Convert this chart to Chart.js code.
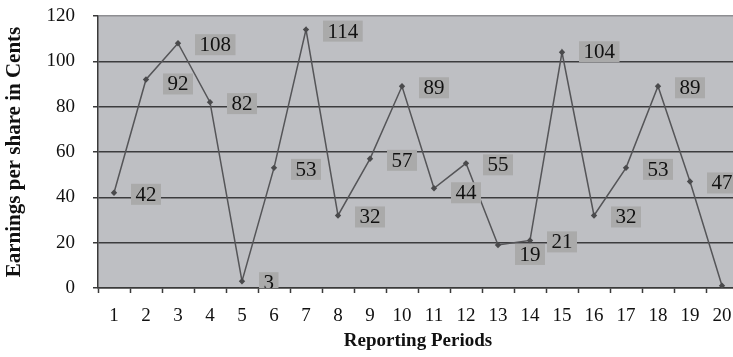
<!DOCTYPE html>
<html>
<head>
<meta charset="utf-8">
<script src="https://cdn.jsdelivr.net/npm/chart.js@4/dist/chart.umd.min.js"></script>
<style>
  html, body { margin: 0; padding: 0; background: #fff; overflow: hidden; width: 733px; height: 357px; }
  #wrap { width: 742px; height: 357px; }
</style>
</head>
<body>
<div id="wrap"><canvas id="eps" width="742" height="357"></canvas></div>
<script>
// Reporting periods and earnings per share (cents)
const periods = ['1','2','3','4','5','6','7','8','9','10','11','12','13','14','15','16','17','18','19','20'];
const earnings = [42, 92, 108, 82, 3, 53, 114, 32, 57, 89, 44, 55, 19, 21, 104, 32, 53, 89, 47, 1];
const yTickValues = [0, 20, 40, 60, 80, 100, 120];

// extra vertical shift (px) for a few value labels so they sit clear of the line
const labelShift = [0, 3, 0, 0, 0, 0, 0, 0, 0, 0, 3, 0, 8, 0, -2, 0, 0, 0, 0, 0];

const SERIF = '"Liberation Serif", "DejaVu Serif", serif';

const plotBackground = {
  id: 'plotBackground',
  beforeDraw(chart) {
    const { ctx, chartArea: a } = chart;
    ctx.save();
    ctx.fillStyle = '#bebfc3';
    ctx.fillRect(a.left, a.top, a.right - a.left, a.bottom - a.top);
    ctx.restore();
  }
};

const valueLabels = {
  id: 'valueLabels',
  afterDatasetsDraw(chart) {
    const { ctx, chartArea: a } = chart;
    const meta = chart.getDatasetMeta(0);
    ctx.save();
    ctx.beginPath();
    ctx.rect(a.left, a.top, a.right - a.left, a.bottom - a.top);
    ctx.clip();
    ctx.font = '21px ' + SERIF;
    ctx.textAlign = 'center';
    ctx.textBaseline = 'middle';
    meta.data.forEach((pt, i) => {
      const text = String(chart.data.datasets[0].data[i]);
      const w = ctx.measureText(text).width + 9;
      const h = 21;
      const left = pt.x + 17;
      const cy = pt.y + 1.5 + labelShift[i];
      ctx.fillStyle = '#aaaaaa';
      ctx.fillRect(left, cy - h / 2, w, h);
      ctx.fillStyle = '#111';
      ctx.fillText(text, left + w / 2, cy + 1);
    });
    ctx.restore();
  }
};

new Chart(document.getElementById('eps'), {
  type: 'line',
  data: {
    labels: periods,
    datasets: [{
      data: earnings,
      borderColor: '#555558',
      borderWidth: 1.5,
      tension: 0,
      pointStyle: 'rectRot',
      pointRadius: 3.2,
      pointBackgroundColor: '#4a4a4c',
      pointBorderColor: '#4a4a4c',
      pointBorderWidth: 0
    }]
  },
  options: {
    responsive: false,
    animation: false,
    devicePixelRatio: 1,
    layout: { padding: { top: 16, right: 4, left: 0, bottom: 0 } },
    plugins: { legend: { display: false }, tooltip: { enabled: false } },
    scales: {
      x: {
        type: 'category',
        offset: true,
        afterFit(scale) {
          scale.height = 69;
          scale.paddingLeft = 0;
          scale.paddingRight = 0;
        },
        grid: {
          offset: true,
          drawOnChartArea: false,
          drawTicks: true,
          tickLength: 5,
          tickColor: '#3a3a3a',
          tickWidth: 1.5
        },
        border: { display: true, color: '#3a3a3a', width: 1.5 },
        ticks: {
          color: '#111',
          font: { family: SERIF, size: 19 },
          padding: 12,
          maxRotation: 0,
          autoSkip: false
        },
        title: {
          display: true,
          text: 'Reporting Periods',
          color: '#111',
          font: { family: SERIF, size: 19, weight: 'bold' },
          padding: { top: 0, bottom: 5 }
        }
      },
      y: {
        min: 0,
        max: 120,
        afterFit(scale) {
          scale.width = 98;
          scale.paddingTop = 0;
          scale.paddingBottom = 0;
        },
        afterBuildTicks(scale) { scale.ticks = yTickValues.map(v => ({ value: v })); },
        grid: {
          color: ctx => (ctx.tick && ctx.tick.value === 120 ? '#8e8e92' : '#3c3c3e'),
          lineWidth: 1.5,
          drawTicks: true,
          tickLength: 5,
          tickColor: '#3a3a3a'
        },
        border: { display: true, color: '#3a3a3a', width: 1.5 },
        ticks: {
          color: '#111',
          font: { family: SERIF, size: 19 },
          padding: 18
        },
        title: {
          display: true,
          text: 'Earnings per share in Cents',
          color: '#111',
          font: { family: SERIF, size: 21, weight: 'bold' },
          padding: { top: 2, bottom: 0 }
        }
      }
    }
  },
  plugins: [plotBackground, valueLabels]
});
</script>
</body>
</html>
